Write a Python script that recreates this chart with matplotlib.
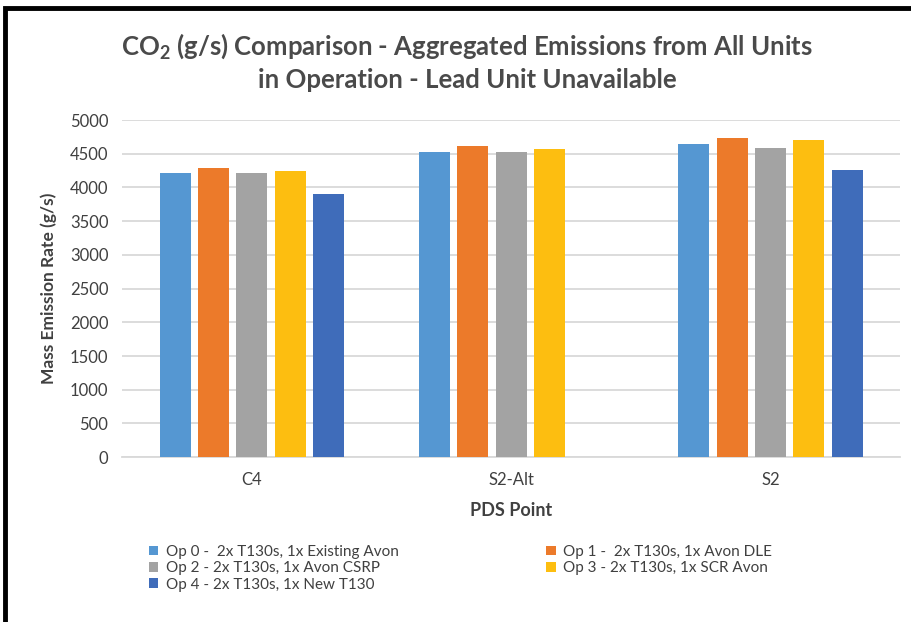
import matplotlib
matplotlib.use('Agg')
import matplotlib.pyplot as plt
from matplotlib.patches import Rectangle
import numpy as np

plt.rcParams['font.family'] = ['Lato', 'DejaVu Sans']
plt.rcParams['mathtext.fontset'] = 'custom'
plt.rcParams['mathtext.rm'] = 'Lato:bold'
plt.rcParams['mathtext.it'] = 'Lato:bold'
plt.rcParams['mathtext.bf'] = 'Lato:bold'

points = ['C4', 'S2-Alt', 'S2']
options = [
    'Op 0 -  2x T130s, 1x Existing Avon',
    'Op 1 -  2x T130s, 1x Avon DLE',
    'Op 2 - 2x T130s, 1x Avon CSRP',
    'Op 3 - 2x T130s, 1x SCR Avon',
    'Op 4 - 2x T130s, 1x New T130',
]
# mass emission rate (g/s) per option, in order C4, S2-Alt, S2
op0 = [4221, 4524, 4648]
op1 = [4296, 4618, 4737]
op2 = [4221, 4524, 4584]
op3 = [4251, 4573, 4707]
op4 = [3900, np.nan, 4266]   # no Op 4 result at S2-Alt
series = [op0, op1, op2, op3, op4]
colors = ['#5597D2', '#EC7A2A', '#A3A3A3', '#FDBE10', '#3F6CBA']

fig = plt.figure(figsize=(9.12, 6.22), dpi=100)
ax = fig.add_axes([0.134, 0.265, 0.853, 0.542])

x = np.arange(len(points))
step = 0.148
width = 0.12
bars = []
for i, (vals, c) in enumerate(zip(series, colors)):
    b = ax.bar(x + (i - 2) * step, vals, width, color=c, label=options[i], zorder=3)
    bars.append(b)

ax.set_xlim(-0.5, 2.5)
ax.set_ylim(0, 5000)
ax.set_yticks(np.arange(0, 5001, 500))
ax.set_xticks(x)
ax.set_xticklabels(points)
ax.grid(axis='y', color='#D9D9D9', lw=1.3, zorder=0)
for s in ['top', 'right', 'left']:
    ax.spines[s].set_visible(False)
ax.spines['bottom'].set_color('#D9D9D9')
ax.spines['bottom'].set_linewidth(1.3)
ax.tick_params(length=0, labelsize=12, colors='#404040', pad=10)
ax.tick_params(axis='x', labelsize=12, pad=11)

ax.set_ylabel('Mass Emission Rate (g/s)', fontsize=12.5, fontweight='bold',
              color='#404040', labelpad=9)
ax.set_xlabel('PDS Point', fontsize=13, fontweight='bold', color='#404040', labelpad=10)

fig.text(0.512, 0.926, r'CO$_2$ (g/s) Comparison - Aggregated Emissions from All Units',
         ha='center', va='center', fontsize=18.5, fontweight='bold', color='#4A4A4A')
fig.text(0.512, 0.871, 'in Operation - Lead Unit Unavailable',
         ha='center', va='center', fontsize=18.5, fontweight='bold', color='#4A4A4A')

# two legend columns laid out row by row
leg_kw = dict(frameon=False, fontsize=11, handlelength=0.6, handleheight=0.6,
              handletextpad=0.5, labelspacing=0.15, labelcolor='#404040')
leg1 = fig.legend([bars[0], bars[2], bars[4]], [options[0], options[2], options[4]],
                  loc='upper left', bbox_to_anchor=(0.148, 0.146), **leg_kw)
leg2 = fig.legend([bars[1], bars[3]], [options[1], options[3]],
                  loc='upper left', bbox_to_anchor=(0.584, 0.146), **leg_kw)

# outer frame (top and left edges visible)
fig.patches.append(Rectangle((0.006, -0.05), 1.2, 1.037, transform=fig.transFigure,
                             fill=False, edgecolor='black', lw=3.5))

fig.savefig('out.png', dpi=100)
